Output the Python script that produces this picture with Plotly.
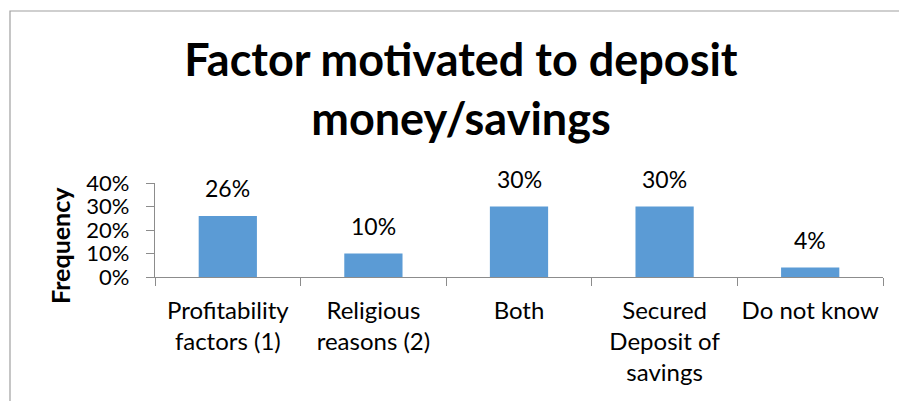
import plotly.graph_objects as go

# Survey results: motivation for depositing money / savings
categories = [
    "Profitability<br>factors (1)",
    "Religious<br>reasons (2)",
    "Both",
    "Secured<br>Deposit of<br>savings",
    "Do not know",
]
shares = [0.26, 0.10, 0.30, 0.30, 0.04]
y_ticks = [0.0, 0.1, 0.2, 0.3, 0.4]

W, H = 899, 401
L, R, T, B = 155, 16, 183, 124
plot_w = W - L - R
plot_h = H - T - B

FONT = "Lato, Carlito, Calibri, sans-serif"
AXIS = "#8c8c8c"
BAR = "#5b9bd5"

fig = go.Figure(
    go.Bar(
        x=categories,
        y=shares,
        marker=dict(color=BAR, line=dict(width=0)),
        width=0.4,
        hoverinfo="skip",
    )
)

# value labels above each bar
for c, v in zip(categories, shares):
    fig.add_annotation(
        x=c, y=v, text=f"{v:.0%}", showarrow=False,
        yanchor="bottom", yshift=12,
        font=dict(family=FONT, size=23, color="black"),
    )

# vertical axis title
fig.add_annotation(
    xref="paper", yref="paper",
    x=(60 - L) / plot_w, y=(H - B - 246) / plot_h,
    text="<b>Frequency</b>", textangle=-90, showarrow=False,
    xanchor="center", yanchor="middle",
    font=dict(family=FONT, size=25, color="black"),
)

# chart-area frame
fig.add_shape(
    type="rect", xref="paper", yref="paper",
    x0=(10 - L) / plot_w, x1=(W + 60 - L) / plot_w,
    y0=(H - B - (H + 60)) / plot_h, y1=(H - B - 11) / plot_h,
    line=dict(color="#a0a0a0", width=1.2), fillcolor="rgba(0,0,0,0)",
    layer="below",
)

fig.update_layout(
    width=W, height=H,
    margin=dict(l=L, r=R, t=T, b=B, pad=0, autoexpand=False),
    paper_bgcolor="white", plot_bgcolor="white",
    showlegend=False,
    title=dict(
        text="<b>Factor motivated to deposit<br>money/savings</b>",
        x=461 / W, xanchor="center", xref="container",
        y=1 - 76 / H, yanchor="top", yref="container",
        font=dict(family=FONT, size=45, color="black"),
        automargin=False,
    ),
    font=dict(family=FONT, size=22, color="black"),
    bargap=0.6,
)

fig.update_xaxes(
    type="category", automargin=False, tickangle=0,
    showline=True, linecolor=AXIS, linewidth=1.2,
    ticks="outside", tickson="boundaries", ticklen=8, tickcolor=AXIS, tickwidth=1.2,
    showgrid=False, ticklabelstandoff=12,
    tickfont=dict(family=FONT, size=24, color="black"),
)
fig.update_yaxes(
    range=[0, 0.4], automargin=False,
    tickvals=y_ticks, tickformat=".0%",
    showline=True, linecolor=AXIS, linewidth=1.2,
    ticks="outside", ticklen=8, tickcolor=AXIS, tickwidth=1.2,
    showgrid=False, zeroline=False, ticklabelstandoff=12,
    tickfont=dict(family=FONT, size=22, color="black"),
)

fig.write_html("out.html")
